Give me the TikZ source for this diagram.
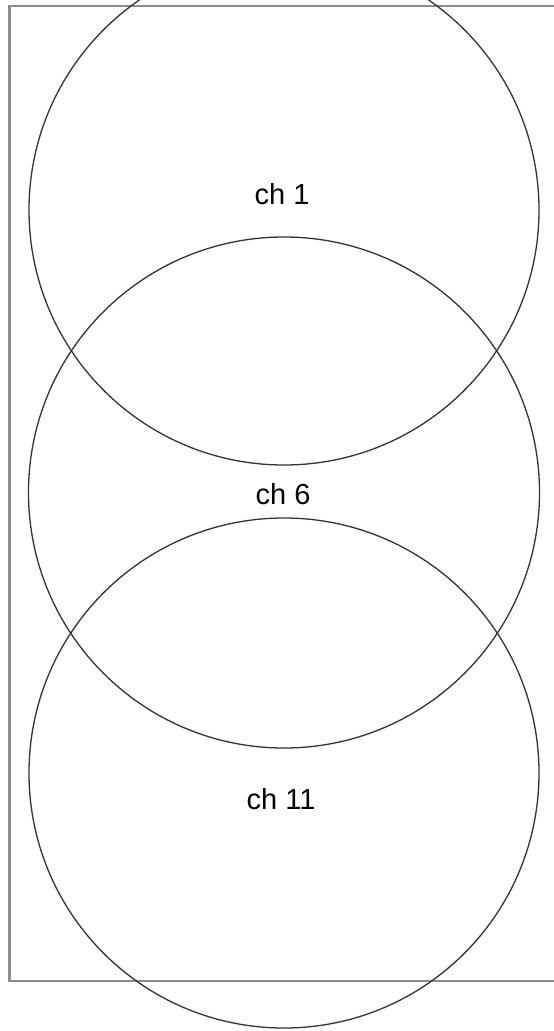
\documentclass[tikz,border=0pt]{standalone}
\usepackage{fontspec}
\setmainfont{Liberation Sans}
\begin{document}
\begin{tikzpicture}[x=1pt,y=-1pt,
  cell/.style={draw=black!80, line width=1.3pt},
  lbl/.style={font=\fontsize{29}{32}\selectfont, inner sep=0pt}]
\useasboundingbox (0,0) rectangle (554,1031);
\clip (0,0) rectangle (554,1031);
\fill[white] (0,0) rectangle (554,1031);
\draw[black!45, line width=2.2pt] (560,6) -- (9.5,6) -- (9.5,981) -- (560,981);
\draw[cell] (284,210) circle (255);
\draw[cell] (284,492.5) circle (255.5);
\draw[cell] (284,773) circle (255);
\node[lbl] (c1) at (282,194) {ch 1};
\node[lbl] (c6) at (283,494) {ch 6};
\node[lbl] (c11) at (281,799) {ch 11};
\end{tikzpicture}
\end{document}
